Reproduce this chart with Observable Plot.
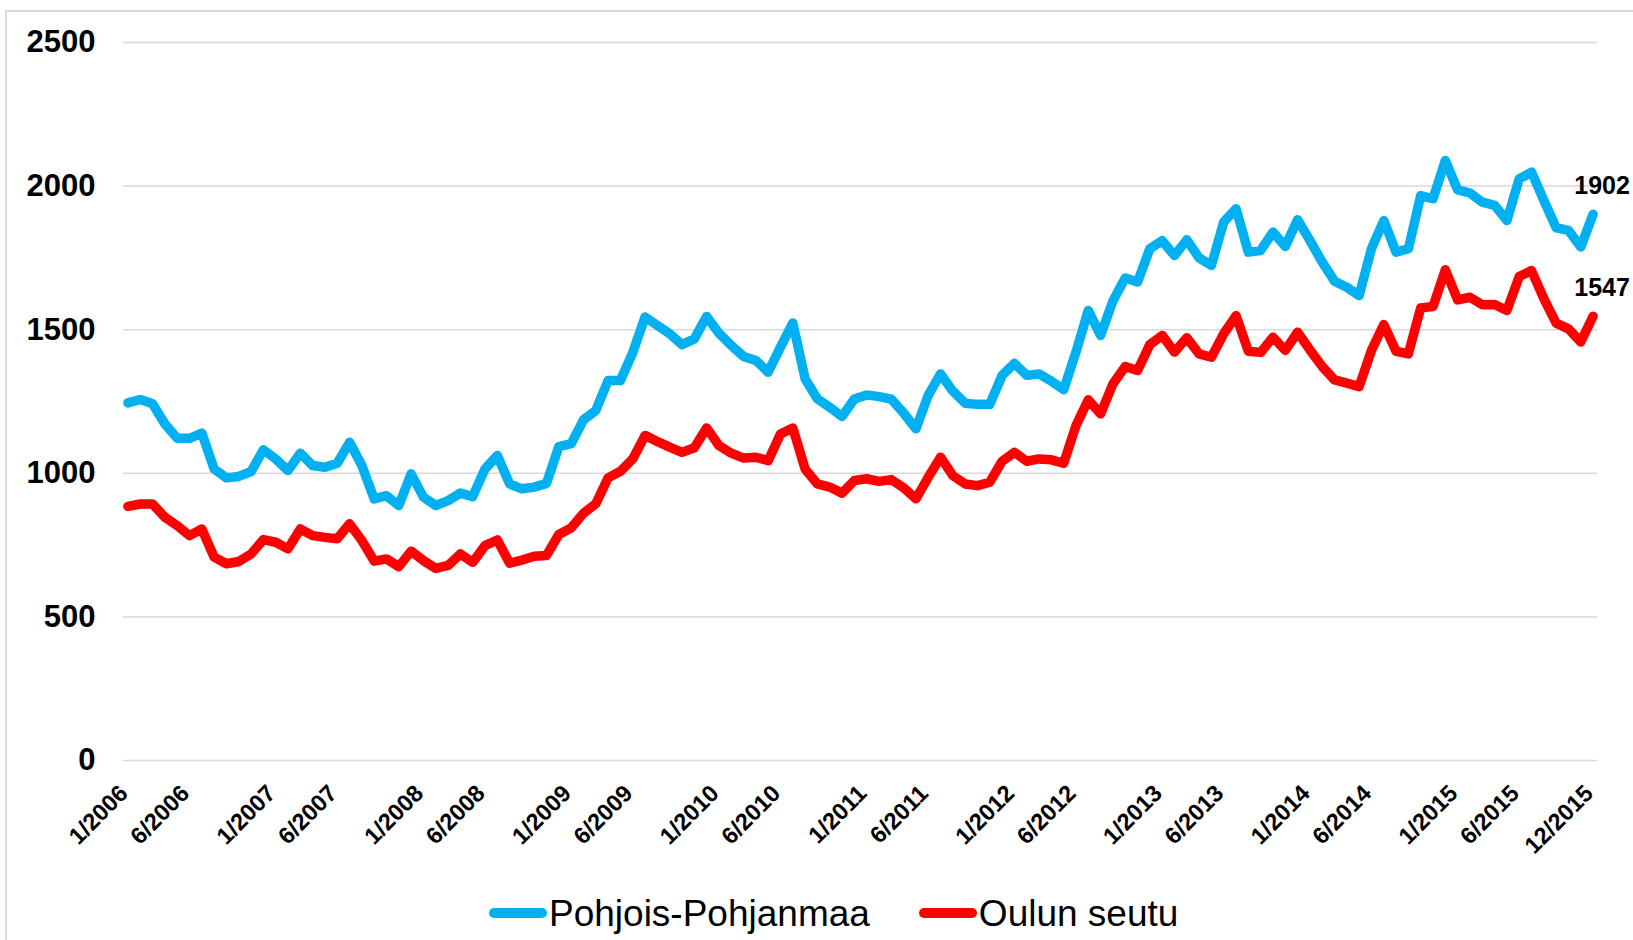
<!DOCTYPE html>
<html>
<head>
<meta charset="utf-8">
<script src="https://cdn.jsdelivr.net/npm/d3@7"></script>
<script src="https://cdn.jsdelivr.net/npm/@observablehq/plot@0.6"></script>
<style>
  html, body { margin: 0; padding: 0; background: #fff; overflow: hidden; }
  body { font-family: "Liberation Sans", Arial, sans-serif; }
  #wrap { position: relative; width: 1633px; height: 940px; overflow: hidden; }
  #frame { position: absolute; left: 5px; top: 10px; width: 1700px; height: 1000px;
           border: 2px solid #d9d9d9; box-sizing: border-box; pointer-events: none; }
  #chart svg { display: block; }
  .legend { display: flex; align-items: center; height: 46px; margin-left: 489px; }
  .sw { display: inline-block; width: 58px; height: 10px; border-radius: 5px; }
  .lt { display: inline-block; font-size: 37px; line-height: 1; margin-left: 2px; color: #000; }
</style>
</head>
<body>
<div id="wrap">
  <div id="frame"></div>
  <div id="chart"></div>
  <div class="legend" id="legend"></div>
</div>
<script>
// ---- data ----
const years = [2006, 2007, 2008, 2009, 2010, 2011, 2012, 2013, 2014, 2015];
const monthNums = [1,2,3,4,5,6,7,8,9,10,11,12];
const seriesNames = ["Pohjois-Pohjanmaa", "Oulun seutu"];
const pohjoisPohjanmaa = [
  1245,1257,1242,1172,1122,1122,1140,1015,984,989,1006,1082,
  1050,1010,1070,1027,1021,1035,1108,1027,911,922,888,998,
  917,888,905,931,919,1015,1062,963,946,952,965,1093,
  1103,1186,1219,1323,1323,1420,1544,1515,1486,1448,1468,1546,
  1488,1445,1407,1393,1352,1439,1523,1329,1259,1230,1198,1259,
  1273,1267,1258,1210,1155,1271,1346,1286,1244,1240,1240,1341,
  1383,1341,1346,1321,1291,1422,1567,1480,1600,1680,1666,1782,
  1810,1758,1813,1750,1724,1875,1921,1770,1776,1840,1790,1883,
  1811,1735,1669,1648,1619,1782,1880,1770,1782,1967,1956,2089,
  1987,1976,1944,1933,1880,2025,2049,1950,1855,1846,1788,1902
];
const oulunSeutu = [
  885,893,893,847,818,783,806,708,685,693,719,769,
  760,737,806,783,777,772,824,766,694,702,675,729,
  696,669,679,719,690,748,768,687,698,711,714,787,
  810,861,894,984,1007,1050,1132,1111,1091,1073,1089,1158,
  1097,1070,1053,1056,1044,1137,1158,1015,963,952,931,975,
  981,972,978,950,911,986,1056,992,963,957,969,1042,
  1073,1042,1050,1047,1035,1166,1256,1207,1311,1372,1358,1448,
  1480,1422,1472,1416,1404,1486,1549,1425,1421,1474,1428,1491,
  1430,1372,1325,1314,1302,1428,1518,1425,1416,1576,1581,1709,
  1604,1613,1587,1588,1567,1685,1706,1608,1523,1503,1457,1547
];
const tickLabels = [
  "1/2006","6/2006","1/2007","6/2007","1/2008","6/2008","1/2009","6/2009",
  "1/2010","6/2010","1/2011","6/2011","1/2012","6/2012","1/2013","6/2013",
  "1/2014","6/2014","1/2015","6/2015","12/2015"
];
const yTicks = [0, 500, 1000, 1500, 2000, 2500];

// ---- build ----
const months = years.flatMap(y => monthNums.map(m => `${m}/${y}`));
const colors = ["#00B0F0", "#FF0000"];
const seriesValues = [pohjoisPohjanmaa, oulunSeutu];
const rows = seriesNames.map((name, s) =>
  months.map((m, i) => ({month: m, value: seriesValues[s][i], series: name})));
const lastRows = rows.map(r => r[r.length - 1]);

const chart = Plot.plot({
  width: 1633,
  height: 890,
  marginLeft: 123,
  marginRight: 36,
  marginTop: 42,
  marginBottom: 130,
  style: {fontFamily: "'Liberation Sans', Arial, sans-serif", background: "transparent", overflow: "visible", color: "#000"},
  x: {type: "point", domain: months, padding: 0.36},
  y: {domain: [0, 2500]},
  marks: [
    Plot.ruleY(yTicks, {stroke: "#d9d9d9", strokeWidth: 1.5}),
    Plot.axisY(yTicks, {tickSize: 0, tickPadding: 28, fontSize: 31, fontWeight: "bold", label: null,
      color: "#000", tickFormat: d => String(d)}),
    Plot.axisX(tickLabels, {tickSize: 0, tickPadding: 29, dx: -4, tickRotate: -45, fontSize: 23.5,
      fontWeight: "bold", label: null, color: "#000"}),
    ...rows.map((r, s) => Plot.line(r, {x: "month", y: "value", stroke: colors[s], strokeWidth: 9.5,
      strokeLinejoin: "round", strokeLinecap: "round"})),
    Plot.text(lastRows, {x: "month", y: "value", text: d => String(d.value), dx: 9, dy: -28,
      fontSize: 25, fontWeight: "bold", fill: "#000"})
  ]
});
document.getElementById("chart").appendChild(chart);

const legend = document.getElementById("legend");
seriesNames.forEach((name, s) => {
  const sw = document.createElement("span");
  sw.className = "sw";
  sw.style.background = colors[s];
  if (s > 0) sw.style.marginLeft = "49px";
  const t = document.createElement("span");
  t.className = "lt";
  t.textContent = name;
  legend.appendChild(sw);
  legend.appendChild(t);
});
</script>
</body>
</html>
